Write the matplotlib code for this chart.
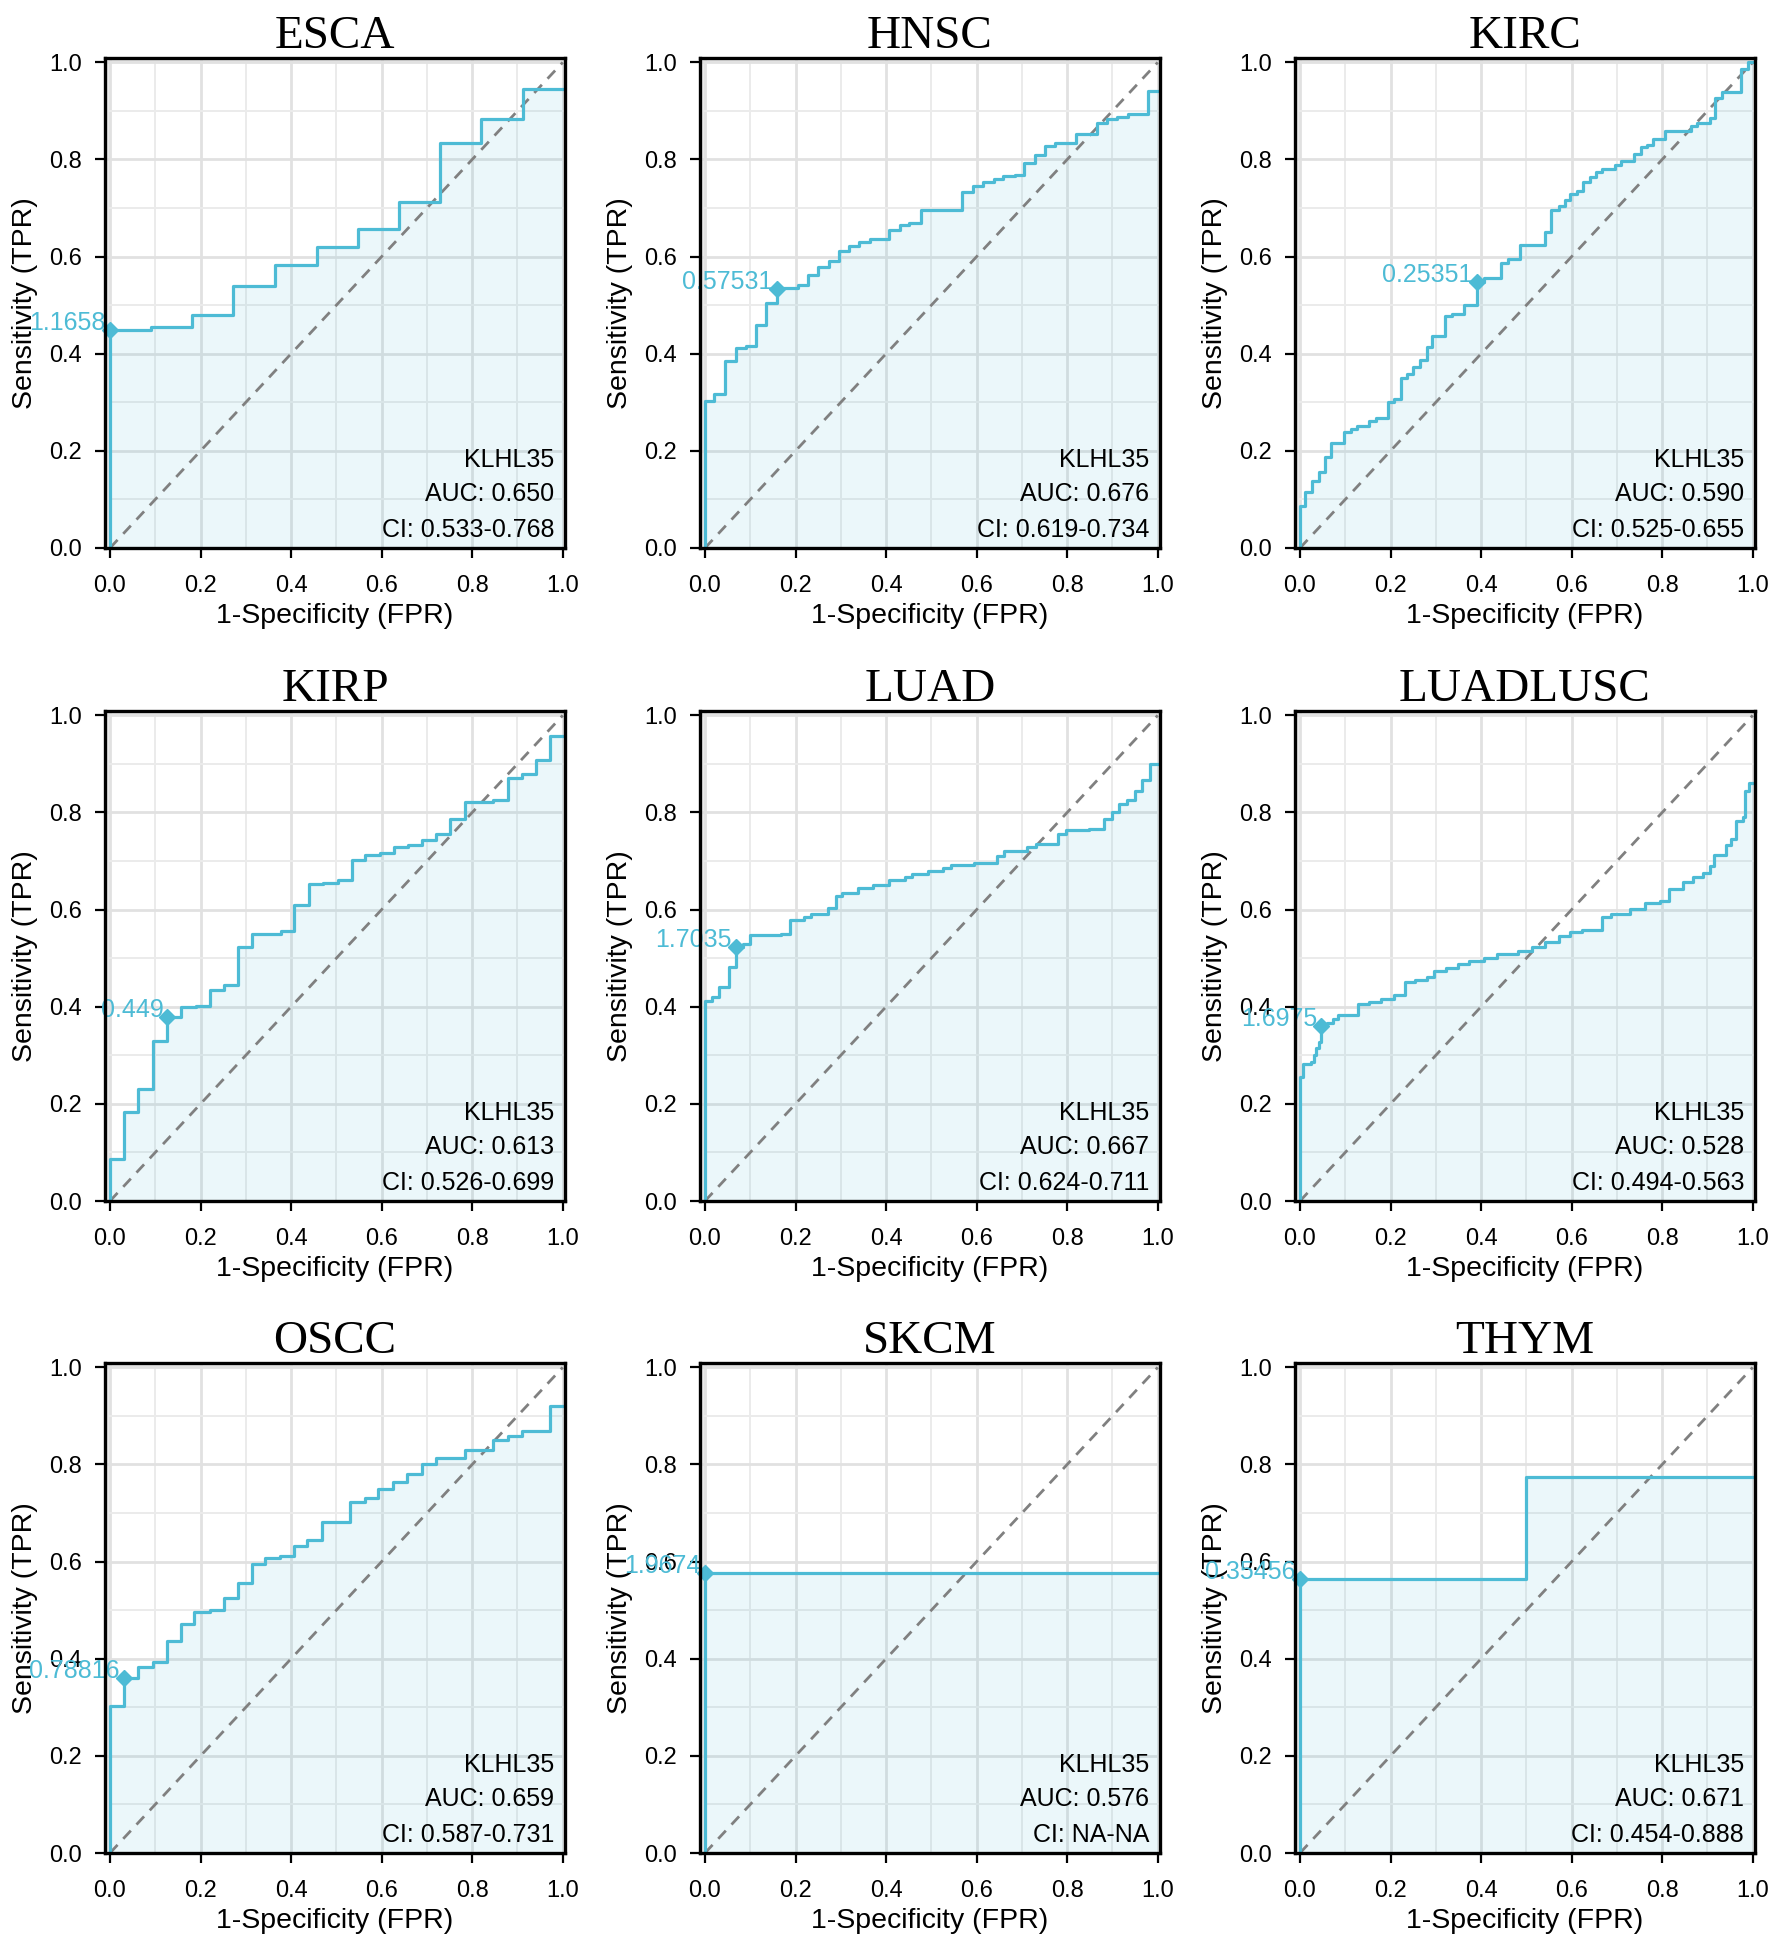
#!/usr/bin/env python3
# -*- coding: utf-8 -*-

from matplotlib import pyplot as plt
from matplotlib.patches import Rectangle
import numpy as np

# ---- data (FPR / TPR corner points, steps-post) ----
names = ["ESCA", "HNSC", "KIRC", "KIRP", "LUAD", "LUADLUSC", "OSCC", "SKCM", "THYM"]

esca_fpr = [0, 0, 0.090, 0.181, 0.272, 0.364, 0.457, 0.548, 0.639, 0.728, 0.820, 0.913, 1.0]
esca_tpr = [0, 0.449, 0.455, 0.479, 0.540, 0.582, 0.620, 0.656, 0.712, 0.833, 0.883, 0.945, 0.945]

hnsc_fpr = [0, 0, 0.021, 0.045, 0.069, 0.091, 0.113, 0.135, 0.159, 0.170, 0.206, 0.227, 0.250,
            0.273, 0.297, 0.318, 0.341, 0.365, 0.407, 0.430, 0.451, 0.477, 0.544, 0.568, 0.591,
            0.614, 0.638, 0.659, 0.684, 0.705, 0.728, 0.752, 0.773, 0.820, 0.865, 0.887, 0.910,
            0.934, 0.978, 1.0]
hnsc_tpr = [0, 0.302, 0.317, 0.386, 0.411, 0.415, 0.460, 0.505, 0.533, 0.536, 0.542, 0.563, 0.578,
            0.590, 0.611, 0.622, 0.631, 0.637, 0.655, 0.666, 0.670, 0.696, 0.697, 0.733, 0.746,
            0.754, 0.760, 0.765, 0.769, 0.792, 0.809, 0.828, 0.834, 0.853, 0.876, 0.883, 0.887,
            0.893, 0.942, 0.942]

kirc_fpr = [0, 0, 0.010, 0.027, 0.041, 0.055, 0.069, 0.097, 0.112, 0.125, 0.153, 0.168, 0.195,
            0.208, 0.223, 0.237, 0.250, 0.264, 0.280, 0.292, 0.320, 0.335, 0.363, 0.390, 0.407,
            0.445, 0.459, 0.487, 0.541, 0.555, 0.572, 0.585, 0.597, 0.612, 0.625, 0.640, 0.653,
            0.668, 0.695, 0.710, 0.737, 0.753, 0.767, 0.780, 0.807, 0.864, 0.877, 0.905, 0.917,
            0.932, 0.973, 0.990, 1.0]
kirc_tpr = [0, 0.087, 0.115, 0.138, 0.156, 0.187, 0.216, 0.239, 0.246, 0.251, 0.261, 0.267, 0.300,
            0.306, 0.351, 0.359, 0.372, 0.387, 0.414, 0.437, 0.477, 0.481, 0.500, 0.547, 0.557,
            0.586, 0.595, 0.624, 0.651, 0.696, 0.704, 0.717, 0.729, 0.735, 0.754, 0.763, 0.774,
            0.780, 0.788, 0.796, 0.811, 0.826, 0.830, 0.843, 0.858, 0.870, 0.876, 0.885, 0.927,
            0.939, 0.986, 1.0, 1.0]

kirp_fpr = [0, 0, 0.031, 0.062, 0.095, 0.127, 0.157, 0.189, 0.220, 0.252, 0.282, 0.314, 0.377,
            0.407, 0.439, 0.470, 0.503, 0.534, 0.564, 0.597, 0.627, 0.658, 0.689, 0.720, 0.752,
            0.784, 0.847, 0.879, 0.909, 0.941, 0.972, 1.0]
kirp_tpr = [0, 0.086, 0.183, 0.231, 0.330, 0.378, 0.399, 0.402, 0.434, 0.444, 0.523, 0.549, 0.556,
            0.609, 0.653, 0.655, 0.662, 0.702, 0.712, 0.716, 0.729, 0.733, 0.744, 0.755, 0.787,
            0.821, 0.825, 0.871, 0.880, 0.909, 0.958, 0.958]

luad_fpr = [0, 0, 0.015, 0.032, 0.052, 0.069, 0.083, 0.100, 0.168, 0.187, 0.218, 0.235, 0.272,
            0.289, 0.303, 0.337, 0.371, 0.407, 0.441, 0.458, 0.492, 0.526, 0.543, 0.595, 0.644,
            0.661, 0.712, 0.731, 0.780, 0.797, 0.848, 0.882, 0.898, 0.915, 0.932, 0.949, 0.966,
            0.983, 1.0]
luad_tpr = [0, 0.412, 0.420, 0.441, 0.481, 0.523, 0.529, 0.548, 0.550, 0.578, 0.584, 0.592, 0.603,
            0.628, 0.634, 0.645, 0.651, 0.662, 0.668, 0.674, 0.679, 0.685, 0.691, 0.697, 0.710,
            0.721, 0.729, 0.735, 0.756, 0.763, 0.766, 0.786, 0.800, 0.817, 0.825, 0.845, 0.867,
            0.899, 0.899]

lulu_fpr = [0, 0, 0.007, 0.025, 0.030, 0.036, 0.042, 0.047, 0.059, 0.072, 0.085, 0.129, 0.153,
            0.178, 0.208, 0.231, 0.254, 0.280, 0.297, 0.322, 0.349, 0.373, 0.407, 0.436, 0.481,
            0.513, 0.542, 0.572, 0.597, 0.623, 0.668, 0.686, 0.729, 0.763, 0.795, 0.815, 0.847,
            0.869, 0.890, 0.905, 0.914, 0.941, 0.953, 0.964, 0.979, 0.983, 0.992, 1.0]
lulu_tpr = [0, 0.256, 0.282, 0.286, 0.301, 0.315, 0.328, 0.360, 0.366, 0.374, 0.382, 0.405, 0.410,
            0.416, 0.424, 0.450, 0.456, 0.462, 0.474, 0.480, 0.489, 0.495, 0.500, 0.508, 0.514,
            0.523, 0.534, 0.546, 0.553, 0.559, 0.584, 0.590, 0.601, 0.613, 0.618, 0.643, 0.657,
            0.668, 0.676, 0.689, 0.713, 0.733, 0.746, 0.783, 0.790, 0.845, 0.861, 0.861]

oscc_fpr = [0, 0, 0.031, 0.061, 0.095, 0.125, 0.157, 0.186, 0.220, 0.252, 0.282, 0.314, 0.343,
            0.375, 0.407, 0.436, 0.469, 0.531, 0.564, 0.593, 0.625, 0.656, 0.689, 0.720, 0.784,
            0.847, 0.879, 0.909, 0.972, 1.0]
oscc_tpr = [0, 0.303, 0.361, 0.384, 0.393, 0.437, 0.472, 0.496, 0.500, 0.525, 0.557, 0.595, 0.607,
            0.611, 0.633, 0.645, 0.682, 0.722, 0.731, 0.749, 0.764, 0.780, 0.802, 0.813, 0.829,
            0.850, 0.859, 0.869, 0.921, 0.921]

skcm_fpr = [0, 0, 1.0]
skcm_tpr = [0, 0.576, 0.576]

thym_fpr = [0, 0, 0.5, 1.0]
thym_tpr = [0, 0.565, 0.774, 0.774]

all_fpr = [esca_fpr, hnsc_fpr, kirc_fpr, kirp_fpr, luad_fpr, lulu_fpr, oscc_fpr, skcm_fpr, thym_fpr]
all_tpr = [esca_tpr, hnsc_tpr, kirc_tpr, kirp_tpr, luad_tpr, lulu_tpr, oscc_tpr, skcm_tpr, thym_tpr]

# best cut-off points and their labels
cut_fpr = [0.0, 0.159, 0.390, 0.127, 0.069, 0.047, 0.031, 0.0, 0.0]
cut_tpr = [0.449, 0.533, 0.547, 0.378, 0.523, 0.360, 0.361, 0.576, 0.565]
cut_labels = ["1.1658", "0.57531", "0.25351", "0.449", "1.7035", "1.6975", "0.78816", "1.9674", "0.35456"]

gene = "KLHL35"
auc = ["0.650", "0.676", "0.590", "0.613", "0.667", "0.528", "0.659", "0.576", "0.671"]
ci = ["0.533-0.768", "0.619-0.734", "0.525-0.655", "0.526-0.699", "0.624-0.711",
      "0.494-0.563", "0.587-0.731", "NA-NA", "0.454-0.888"]

LINE = "#4DBBD5"

plt.rcParams['font.family'] = ['Liberation Sans', 'DejaVu Sans']

W, H = 1780, 1942
fig = plt.figure(figsize=(W / 100, H / 100), dpi=100)

col_left = [105, 700, 1295]
row_top = [58, 711, 1363]
ax_w, ax_h = 460, 490


def draw_panel(ax, i):
    fpr = np.array(all_fpr[i])
    tpr = np.array(all_tpr[i])

    ax.set_facecolor("#EBEBEB")
    ax.add_patch(Rectangle((0, 0), 1, 1, facecolor="white", edgecolor="none", zorder=0.2))
    ax.set_xlim(-0.011, 1.005)
    ax.set_ylim(0, 1.009)

    ax.set_xticks(np.arange(0, 1.01, 0.2))
    ax.set_yticks(np.arange(0, 1.01, 0.2))
    ax.set_xticks(np.arange(0.1, 1.0, 0.2), minor=True)
    ax.set_yticks(np.arange(0.1, 1.0, 0.2), minor=True)
    ax.set_axisbelow(True)
    ax.grid(which="major", color="#E1E1E1", lw=2.0)
    ax.grid(which="minor", color="#EBEBEB", lw=1.4)
    ax.tick_params(which="minor", length=0)
    ax.tick_params(which="major", length=7.5, width=1.6, labelsize=17, color="black")
    ax.tick_params(axis="x", pad=12)
    ax.tick_params(axis="y", pad=9)

    for s in ax.spines.values():
        s.set_linewidth(2.4)
        s.set_color("black")

    ax.fill_between(fpr, tpr, step="post", color=LINE, alpha=0.11, lw=0, zorder=1)
    ax.plot([0, 1], [0, 1], color="#808080", lw=2.0, ls=(0, (4, 3)), zorder=1.5)
    ax.plot(fpr, tpr, drawstyle="steps-post", color=LINE, lw=2.3, zorder=2)

    ax.plot(cut_fpr[i], cut_tpr[i], marker="D", ms=8, color=LINE, zorder=2.2, clip_on=False)
    ax.annotate(cut_labels[i], (cut_fpr[i], cut_tpr[i]), xytext=(-3, 0),
                textcoords="offset points", ha="right", va="baseline",
                color=LINE, fontsize=18, zorder=2.4, annotation_clip=False)

    for txt, yy in zip([gene, "AUC: " + auc[i], "CI: " + ci[i]], [0.167, 0.096, 0.023]):
        ax.text(0.981, yy, txt, ha="right", va="baseline", fontsize=18, zorder=3)

    ax.set_title(names[i], fontsize=34, family="Liberation Serif", pad=4)
    ax.set_xlabel("1-Specificity (FPR)", fontsize=20.5, labelpad=4)
    ax.set_ylabel("Sensitivity (TPR)", fontsize=20.5, labelpad=8)


for i in range(len(names)):
    r, c = divmod(i, 3)
    left = col_left[c] / W
    bottom = (H - row_top[r] - ax_h) / H
    ax = fig.add_axes([left, bottom, ax_w / W, ax_h / H])
    draw_panel(ax, i)

fig.savefig("out.png", dpi=100, facecolor="white")
